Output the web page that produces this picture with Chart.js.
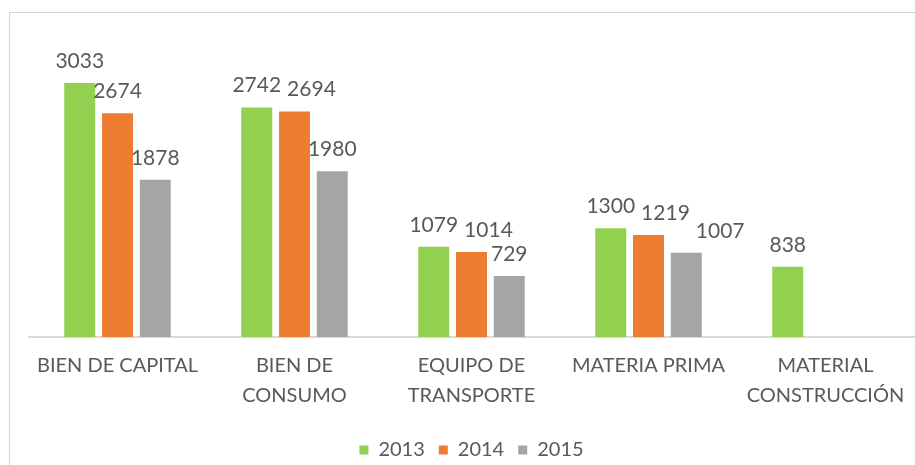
<!DOCTYPE html>
<html>
<head>
<meta charset="utf-8">
<script src="https://cdn.jsdelivr.net/npm/chart.js@4/dist/chart.umd.min.js"></script>
<style>
  body { margin: 0; background: #fff; }
  #wrap { position: relative; width: 915px; height: 465px; overflow: hidden; }
  #frame { position: absolute; left: 9px; top: 12px; width: 960px; height: 500px; border: 1px solid #d4d4d4; }
  canvas { position: absolute; left: 0; top: 0; }
</style>
</head>
<body>
<div id="wrap">
  <div id="frame"></div>
  <canvas id="myBarChart" width="915" height="465"></canvas>
</div>
<script>
var categories = [
  ['BIEN DE CAPITAL'],
  ['BIEN DE', 'CONSUMO'],
  ['EQUIPO DE', 'TRANSPORTE'],
  ['MATERIA PRIMA'],
  ['MATERIAL', 'CONSTRUCCIÓN']
];
var years = ['2013', '2014', '2015'];
var values2013 = [3033, 2742, 1079, 1300, 838];
var values2014 = [2674, 2694, 1014, 1219, null];
var values2015 = [1878, 1980, 729, 1007, null];
var colors = ['#92d050', '#ed7d31', '#a5a5a5'];

var FONT = 'Lato, "Liberation Sans", sans-serif';

// draws the value above each bar, nudging it right when it would hit the previous label
var valueLabels = {
  id: 'valueLabels',
  afterDatasetsDraw: function (chart) {
    var ctx = chart.ctx;
    ctx.save();
    ctx.font = '21px ' + FONT;
    ctx.fillStyle = '#595959';
    ctx.textAlign = 'center';
    ctx.textBaseline = 'alphabetic';
    var n = chart.data.labels.length;
    for (var j = 0; j < n; j++) {
      var placed = [];
      chart.data.datasets.forEach(function (ds, i) {
        if (ds.data[j] == null) return;
        var bar = chart.getDatasetMeta(i).data[j];
        var txt = String(ds.data[j]);
        var w = ctx.measureText(txt).width;
        var x = bar.x, y = bar.y - 15;
        placed.forEach(function (p) {
          var vert = y > p.y - 19 && y - 19 < p.y;
          if (vert && x - w / 2 < p.x + p.w / 2 + 6) {
            x = p.x + p.w / 2 + 6 + w / 2;
          }
        });
        placed.push({ x: x, y: y, w: w });
        ctx.fillText(txt, x, y);
      });
    }
    ctx.restore();
  }
};

var ctx = document.getElementById('myBarChart').getContext('2d');
var myBarChart = new Chart(ctx, {
  type: 'bar',
  data: {
    labels: categories,
    datasets: [
      { label: years[0], data: values2013, backgroundColor: colors[0] },
      { label: years[1], data: values2014, backgroundColor: colors[1] },
      { label: years[2], data: values2015, backgroundColor: colors[2] }
    ]
  },
  options: {
    responsive: false,
    animation: false,
    categoryPercentage: 0.64,
    barPercentage: 0.82,
    layout: { padding: { left: 29, right: 1, top: 44, bottom: -5 } },
    scales: {
      x: {
        afterFit: function (scale) { scale.height = 89; },
        grid: { display: false },
        border: { display: true, color: '#d9d9d9', width: 2 },
        ticks: {
          color: '#595959',
          font: { family: FONT, size: 20, lineHeight: 1.5 },
          padding: 6,
          maxRotation: 0
        }
      },
      y: {
        display: false,
        min: 0,
        max: 3500
      }
    },
    plugins: {
      legend: {
        position: 'bottom',
        labels: {
          color: '#595959',
          font: { family: FONT, size: 20 },
          boxWidth: 9,
          boxHeight: 9,
          padding: 14
        }
      },
      tooltip: { enabled: false }
    }
  },
  plugins: [valueLabels]
});
</script>
</body>
</html>
